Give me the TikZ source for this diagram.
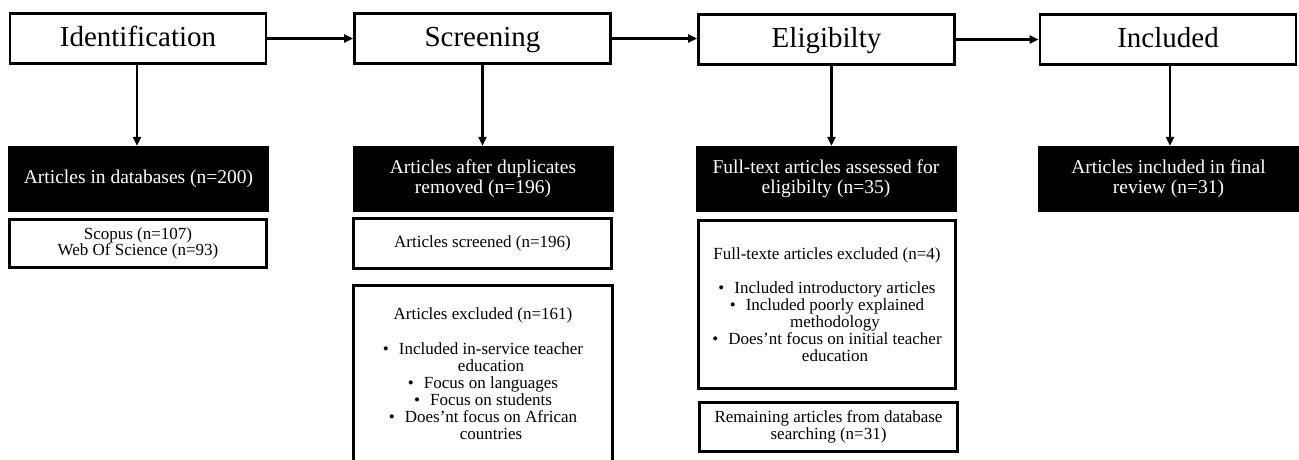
\documentclass[tikz,border=0pt]{standalone}
\usepackage{fontspec}
\setmainfont{Liberation Serif}
\usetikzlibrary{arrows.meta}
\begin{document}
\begin{tikzpicture}[x=1pt,y=-1pt,
  topbox/.style={draw, line width=2.6pt, minimum width=256pt, minimum height=50pt, inner sep=0pt, text height=21pt, text depth=5pt, font=\fontsize{29}{30}\selectfont},
  blackbox/.style={fill=black, text=white, minimum width=261pt, minimum height=66pt, inner sep=0pt, align=center, font=\fontsize{19.5}{20}\selectfont},
  subbox/.style={draw, line width=3.4pt, inner sep=0pt, align=center, font=\fontsize{17}{17}\selectfont},
  arr/.style={line width=2.2pt, -{Triangle[length=9pt,width=8pt]}}]
\useasboundingbox (0,0) rectangle (1299,459);
% top row
\node[topbox] (t1) at (138,38.5) {Identification};
\node[topbox] (t2) at (482.5,38.5) {Screening};
\node[topbox] (t3) at (826.5,39.5) {Eligibilty};
\node[topbox] (t4) at (1168,39.5) {Included};
% black boxes
\node[blackbox] (b1) at (138.5,179) {Articles in databases (n=200)};
\node[blackbox] (b2) at (483,179) {Articles after duplicates\\removed (n=196)};
\node[blackbox] (b3) at (826,179) {Full-text articles assessed for\\eligibilty (n=35)};
\node[blackbox] (b4) at (1168.5,179) {Articles included in final\\review (n=31)};
% sub boxes
\node[subbox, minimum width=257pt, minimum height=48pt] (s1) at (138,243.5) {Scopus (n=107)\\[-1pt]Web Of Science (n=93)};
\node[subbox, minimum width=258pt, minimum height=50pt] (s2) at (482.5,243.5) {Articles screened (n=196)};
\node[subbox, minimum width=259pt, minimum height=177pt] (s3) at (483,374) {Articles excluded (n=161)\\[18pt]
\textbullet\hspace{10pt}Included in-service teacher\\
\hspace*{16pt}education\\
\textbullet\hspace{10pt}Focus on languages\\
\textbullet\hspace{10pt}Focus on students\\
\textbullet\hspace{10pt}Does'nt focus on African\\
\hspace*{16pt}countries};
\node[subbox, minimum width=257pt, minimum height=168pt] (s4) at (827,304.5) {Full-texte articles excluded (n=4)\\[17pt]
\textbullet\hspace{10pt}Included introductory articles\\
\textbullet\hspace{10pt}Included poorly explained\\
\hspace*{16pt}methodology\\
\textbullet\hspace{10pt}Does'nt focus on initial teacher\\
\hspace*{16pt}education};
\node[subbox, minimum width=258pt, minimum height=49pt] (s5) at (828.5,427) {Remaining articles from database\\searching (n=31)};
% arrows
\draw[arr] (t1.east) -- (t2.west);
\draw[arr] (t2.east) -- (t2.east -| t3.west);
\draw[arr] (t3.east) -- (t4.west);
\draw[arr] ([xshift=-1pt]t1.south) -- ([xshift=-1pt]t1.south |- b1.north);
\draw[arr] (t2.south) -- (t2.south |- b2.north);
\draw[arr] ([xshift=5pt]t3.south) -- ([xshift=5pt]t3.south |- b3.north);
\draw[arr] ([xshift=2pt]t4.south) -- ([xshift=2pt]t4.south |- b4.north);
\end{tikzpicture}
\end{document}
